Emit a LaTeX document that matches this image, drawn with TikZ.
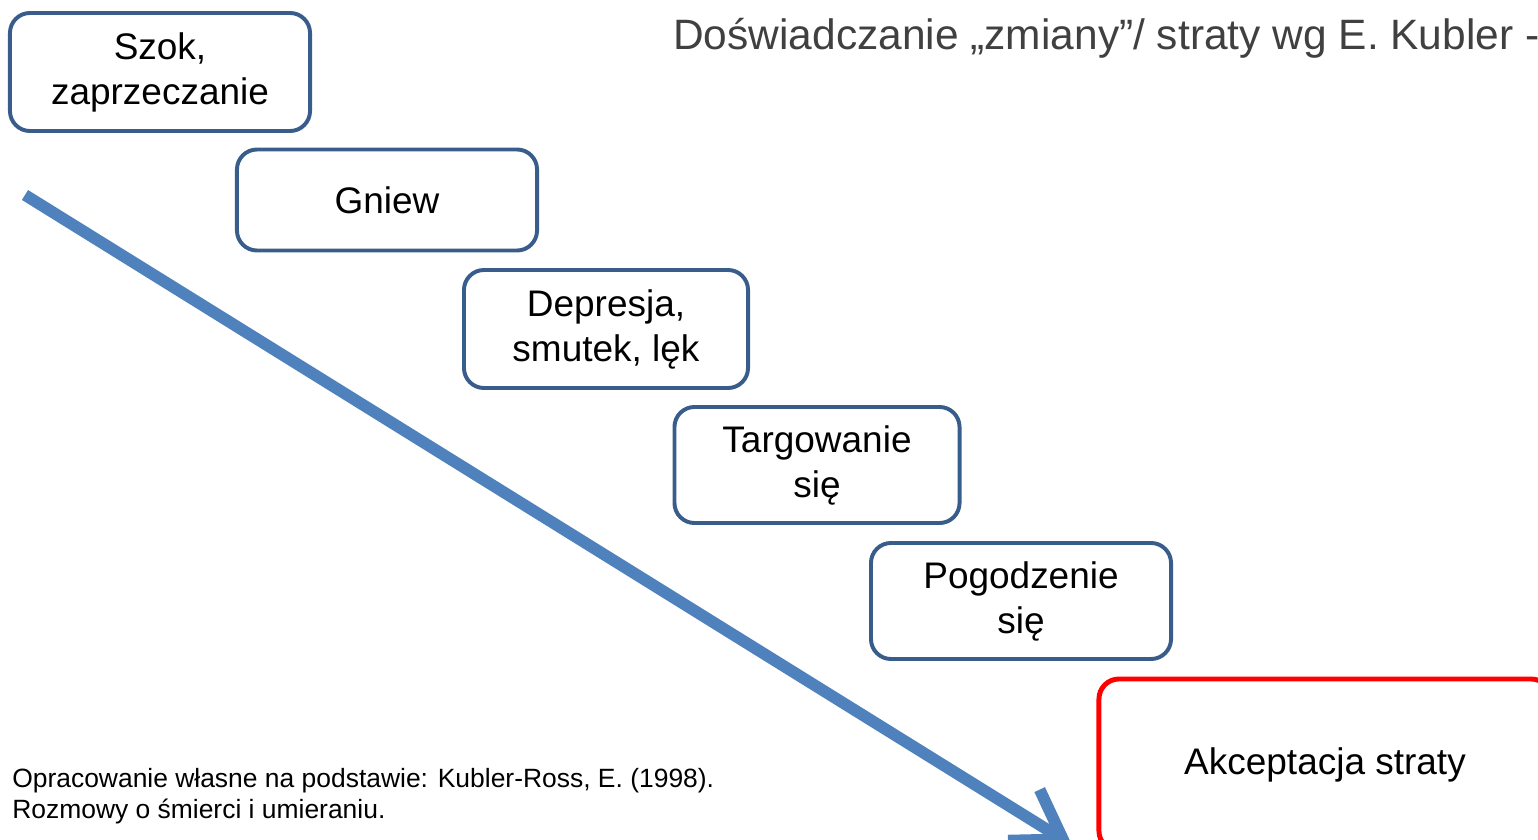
\documentclass[tikz,border=0pt]{standalone}
\usepackage{fontspec}
\setmainfont{Liberation Sans}
\usetikzlibrary{arrows.meta}
\definecolor{ramka}{HTML}{385D8A}
\definecolor{strzalka}{HTML}{4F81BD}
\definecolor{tytul}{HTML}{404040}

\begin{document}
\begin{tikzpicture}[x=0.025cm, y=-0.025cm,
  etap/.style={draw=ramka, line width=2.8pt, rounded corners=0.5cm, fill=white,
    align=center, inner sep=0pt, font=\fontsize{26.3pt}{32pt}\selectfont}]

\useasboundingbox (0,0) rectangle (1538,840);
\clip (0,0) rectangle (1538,840);

% Tytul
\node[anchor=base west, inner sep=0pt, text=tytul, font=\fontsize{30.2pt}{36pt}\selectfont] (naglowek) at (673,50) {Doświadczanie „zmiany”/ straty wg E. Kubler -};

% Strzalka
\coordinate (poczatek) at (25,195);
\coordinate (koniec) at (1072,845);
\draw[strzalka, line width=8.3pt, -{Straight Barb[length=1.15cm, width=1.5cm]}] (poczatek) -- (koniec);

% Etapy
\node[etap, minimum width=7.5cm, minimum height=2.95cm] (szok) at (160,72) {Szok,\\zaprzeczanie};
\node[etap, minimum width=7.5cm, minimum height=2.525cm] (gniew) at (387,200) {Gniew};
\node[etap, minimum width=7.1cm, minimum height=2.95cm] (depresja) at (606,329) {Depresja,\\smutek, lęk};
\node[etap, minimum width=7.125cm, minimum height=2.9cm] (targ) at (817,465) {Targowanie\\się};
\node[etap, minimum width=7.5cm, minimum height=2.9cm] (pogodz) at (1021,601) {Pogodzenie\\się};
\node[etap, draw=red, line width=3.5pt, minimum width=11.3cm, minimum height=4.3cm] (akcept) at (1325,765) {Akceptacja straty};

% Zrodlo
\node[anchor=north west, align=left, inner sep=0pt, font=\fontsize{18.8pt}{22pt}\selectfont] (zrodlo) at (12,768) {Opracowanie własne na podstawie: Kubler-Ross, E. (1998).\\Rozmowy o śmierci i umieraniu.};

\end{tikzpicture}
\end{document}
